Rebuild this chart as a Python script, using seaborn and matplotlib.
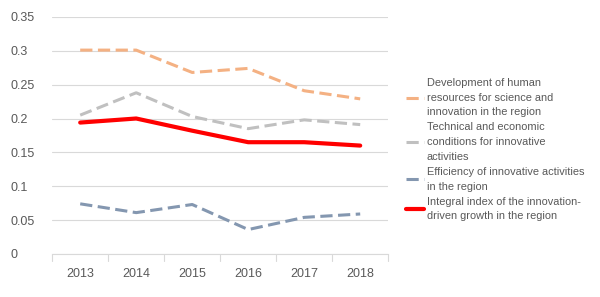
import matplotlib
matplotlib.use("Agg")
import matplotlib.pyplot as plt
import seaborn as sns
import pandas as pd

# data
years = ["2013", "2014", "2015", "2016", "2017", "2018"]
human = [0.301, 0.301, 0.268, 0.274, 0.241, 0.229]
technical = [0.205, 0.238, 0.203, 0.185, 0.198, 0.191]
efficiency = [0.074, 0.061, 0.073, 0.036, 0.054, 0.059]
integral = [0.194, 0.200, 0.182, 0.165, 0.165, 0.160]

names = [
    "Development of human\nresources for science and\ninnovation in the region",
    "Technical and economic\nconditions for innovative\nactivities",
    "Efficiency of innovative activities\nin the region",
    "Integral index of the innovation-\ndriven growth in the region",
]
series = [human, technical, efficiency, integral]
colors = ["#F4B183", "#C0C0C0", "#8497B0", "#FF0000"]

df = pd.concat(
    [pd.DataFrame({"year": years, "value": v, "series": n}) for n, v in zip(names, series)]
)

sns.set_style("white")
plt.rcParams["font.family"] = ["Liberation Sans", "DejaVu Sans"]
txt = "#595959"

fig = plt.figure(figsize=(6, 2.97), dpi=100)
ax = fig.add_axes([0.087, 0.145, 0.56, 0.798])

for n, c in zip(names, colors):
    sub = df[df["series"] == n]
    is_int = n == names[3]
    sns.lineplot(data=sub, x="year", y="value", ax=ax, color=c, label=n,
                 linewidth=3.0 if is_int else 2.2,
                 linestyle="-" if is_int else (0, (4, 1.8)),
                 sort=False)

ax.set_ylim(0, 0.35)
ax.set_xlim(-0.5, 5.5)
ax.set_yticks([0, 0.05, 0.1, 0.15, 0.2, 0.25, 0.3, 0.35])
ax.set_yticklabels(["0", "0.05", "0.1", "0.15", "0.2", "0.25", "0.3", "0.35"])
ax.yaxis.grid(True, color="#D9D9D9", linewidth=0.8)
ax.set_axisbelow(True)
for s in ["left", "right", "top"]:
    ax.spines[s].set_visible(False)
ax.spines["bottom"].set_color("#D9D9D9")
ax.tick_params(axis="y", length=0, labelsize=9, labelcolor=txt, pad=30)
ax.tick_params(axis="x", length=0, labelsize=9, labelcolor=txt, pad=10)
for i in range(7):
    ax.axvline(i - 0.5, ymin=-0.03, ymax=0, color="#D9D9D9", linewidth=0.8, clip_on=False)
for lbl in ax.get_yticklabels():
    lbl.set_horizontalalignment("left")
ax.set_xlabel("")
ax.set_ylabel("")

handles, labels = ax.get_legend_handles_labels()
leg = ax.legend(handles, labels, loc="center left", bbox_to_anchor=(1.04, 0.44),
                frameon=False, fontsize=7.9, labelcolor=txt, handlelength=1.6,
                handletextpad=0.3, labelspacing=0.45, borderaxespad=0)
for t in leg.get_texts():
    t.set_linespacing(1.6)

fig.savefig("out.png", dpi=100)
